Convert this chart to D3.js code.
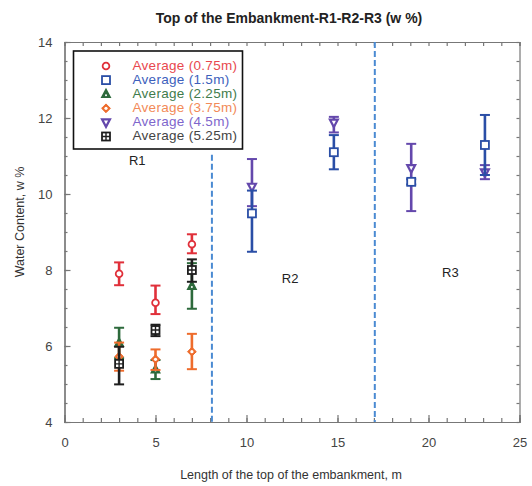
<!DOCTYPE html>
<html>
<head>
<meta charset="utf-8">
<script src="https://cdn.jsdelivr.net/npm/d3@7"></script>
<style>
  body { margin: 0; background: #fff; }
  svg { display: block; font-family: "Liberation Sans", Arial, sans-serif; }
</style>
</head>
<body>
<svg id="chart" width="532" height="486"></svg>
<script>
// Positions along the embankment top (m)
const positions = [3, 5, 7, 10.3, 14.8, 19.05, 23.1];

// Series: depth label, marker, colours
const seriesNames = ["Average (0.75m)", "Average (1.5m)", "Average (2.25m)", "Average (3.75m)", "Average (4.5m)", "Average (5.25m)"];
const seriesSymbols = ["circle", "square", "triangle", "diamond", "down", "crossSquare"];
const seriesColors = ["#e0303a", "#2a4ea6", "#2d6a3c", "#ee6c2c", "#6448ac", "#1e1e1e"];
const legendColors = ["#e8484e", "#3d5fbc", "#3f7c4c", "#f28a58", "#7e66cc", "#444444"];

// Mean water content (w %) and error-bar bounds; null where not measured
const mean075 = [7.9, 7.14, 8.68, null, null, null, null];
const lo075   = [7.6, 6.84, 8.44, null, null, null, null];
const hi075   = [8.2, 7.59, 8.94, null, null, null, null];

const mean15 = [null, null, null, 9.49, 11.1, 10.32, 11.29];
const lo15   = [null, null, null, 8.48, 10.65, 10.25, 10.5];
const hi15   = [null, null, null, 10.09, 11.55, 10.39, 12.08];

const mean225 = [6.08, 5.38, 7.58, null, null, null, null];
const lo225   = [5.68, 5.13, 6.98, null, null, null, null];
const hi225   = [6.48, 5.63, 8.18, null, null, null, null];

const mean375 = [5.72, 5.65, 5.85, null, null, null, null];
const lo375   = [5.35, 5.37, 5.39, null, null, null, null];
const hi375   = [6.09, 5.91, 6.32, null, null, null, null];

const mean45 = [null, null, null, 10.19, 11.88, 10.68, 10.57];
const lo45   = [null, null, null, 9.68, 11.62, 9.55, 10.39];
const hi45   = [null, null, null, 10.92, 12.03, 11.32, 10.76];

const mean525 = [5.53, 6.42, 8.0, null, null, null, null];
const lo525   = [4.99, 6.26, 7.69, null, null, null, null];
const hi525   = [5.98, 6.56, 8.28, null, null, null, null];

const means = [mean075, mean15, mean225, mean375, mean45, mean525];
const lows  = [lo075, lo15, lo225, lo375, lo45, lo525];
const highs = [hi075, hi15, hi225, hi375, hi45, hi525];

// Order in which the series are painted
const drawOrder = [4, 0, 1, 2, 3, 5];

// Zone boundaries and labels
const boundaries = [8.1, 17.05];
const boundaryTop = [11.03, 14];
const zoneLabels = ["R1", "R2", "R3"];
const zoneX = [4.0, 12.4, 21.2];
const zoneY = [10.85, 7.75, 7.9];

const xTicks = [0, 5, 10, 15, 20, 25];
const yTicks = [4, 6, 8, 10, 12, 14];

const svg = d3.select("#chart");
const plotLeft = 64.5, plotRight = 519.5, plotTop = 42, plotBottom = 422;

const x = d3.scaleLinear().domain([0, 25]).range([plotLeft, plotRight]);
const y = d3.scaleLinear().domain([4, 14]).range([plotBottom, plotTop]);

// Title
svg.append("text")
  .attr("x", 289).attr("y", 23)
  .attr("text-anchor", "middle")
  .attr("font-size", 14).attr("font-weight", "bold").attr("fill", "#222")
  .text("Top of the Embankment-R1-R2-R3 (w %)");

// Axes: labelled bottom/left, tick-only top/right, ticks pointing inwards
const axisColor = "#777";
const g = svg.append("g");

function styleAxis(sel) {
  sel.select(".domain").attr("stroke", axisColor).attr("stroke-width", 1.2);
  sel.selectAll(".tick line").attr("stroke", axisColor).attr("stroke-width", 1.2);
  sel.selectAll(".tick text").attr("fill", "#444").attr("font-size", 13);
}

// minor ticks
g.append("g").attr("transform", `translate(0,${plotBottom})`)
  .call(d3.axisBottom(x).ticks(25).tickSize(-4).tickFormat(""))
  .call(styleAxis);
g.append("g").attr("transform", `translate(0,${plotTop})`)
  .call(d3.axisTop(x).ticks(25).tickSize(-4).tickFormat(""))
  .call(styleAxis);
g.append("g").attr("transform", `translate(${plotLeft},0)`)
  .call(d3.axisLeft(y).ticks(20).tickSize(-3).tickFormat(""))
  .call(styleAxis);
g.append("g").attr("transform", `translate(${plotRight},0)`)
  .call(d3.axisRight(y).ticks(20).tickSize(-3).tickFormat(""))
  .call(styleAxis);

// major ticks with labels
g.append("g").attr("transform", `translate(0,${plotBottom})`)
  .call(d3.axisBottom(x).tickValues(xTicks).tickSize(-7).tickPadding(16).tickFormat(d3.format("d")))
  .call(styleAxis);
g.append("g").attr("transform", `translate(${plotLeft},0)`)
  .call(d3.axisLeft(y).tickValues(yTicks).tickSize(-6).tickPadding(12).tickFormat(d3.format("d")))
  .call(styleAxis);

// Axis titles
svg.append("text")
  .attr("x", 291).attr("y", 479)
  .attr("text-anchor", "middle").attr("font-size", 12.5).attr("fill", "#333")
  .text("Length of the top of the embankment, m");
svg.append("text")
  .attr("transform", "translate(24,222) rotate(-90)")
  .attr("text-anchor", "middle").attr("font-size", 12.5).attr("fill", "#333")
  .text("Water Content, w %");

// Zone boundaries
svg.append("g").selectAll("line").data(boundaries).join("line")
  .attr("x1", d => x(d)).attr("x2", d => x(d))
  .attr("y1", (d, i) => y(boundaryTop[i])).attr("y2", y(4))
  .attr("stroke", "#4a8ad2").attr("stroke-width", 2)
  .attr("stroke-dasharray", "6,3");

// Zone labels
svg.append("g").selectAll("text").data(zoneLabels).join("text")
  .attr("x", (d, i) => x(zoneX[i])).attr("y", (d, i) => y(zoneY[i]))
  .attr("text-anchor", "middle").attr("dominant-baseline", "middle")
  .attr("font-size", 13).attr("fill", "#222")
  .text(d => d);

// Marker drawing
function drawMarker(sel, kind, color, s) {
  const sw = 1.8;
  if (kind === "circle") {
    sel.append("circle").attr("r", s * 0.42).attr("fill", "#fff").attr("stroke", color).attr("stroke-width", sw);
  } else if (kind === "square") {
    sel.append("rect").attr("x", -s / 2).attr("y", -s / 2).attr("width", s).attr("height", s)
      .attr("fill", "#fff").attr("stroke", color).attr("stroke-width", sw);
  } else if (kind === "crossSquare") {
    sel.append("rect").attr("x", -s / 2).attr("y", -s / 2).attr("width", s).attr("height", s)
      .attr("fill", "#fff").attr("stroke", color).attr("stroke-width", sw);
    sel.append("path").attr("d", `M${-s / 2},0H${s / 2}M0,${-s / 2}V${s / 2}`)
      .attr("stroke", color).attr("stroke-width", 1.4);
  } else if (kind === "triangle") {
    const h = s * 0.9;
    sel.append("path").attr("d", `M0,${-h * 0.62}L${h * 0.55},${h * 0.42}L${-h * 0.55},${h * 0.42}Z`)
      .attr("fill", color).attr("stroke", color).attr("stroke-width", sw);
    sel.append("circle").attr("r", 1).attr("cy", 1).attr("fill", "#fff");
  } else if (kind === "down") {
    const h = s * 0.9;
    sel.append("path").attr("d", `M0,${h * 0.62}L${h * 0.55},${-h * 0.42}L${-h * 0.55},${-h * 0.42}Z`)
      .attr("fill", "#fff").attr("stroke", color).attr("stroke-width", sw + 0.4);
  } else if (kind === "diamond") {
    const r = s * 0.55;
    sel.append("path").attr("d", `M0,${-r}L${r},0L0,${r}L${-r},0Z`)
      .attr("fill", color).attr("stroke", color).attr("stroke-width", 1);
    sel.append("circle").attr("r", 1.6).attr("fill", "#fff");
  }
}

// Error bars and markers
const plot = svg.append("g");
drawOrder.forEach(si => {
  const color = seriesColors[si];
  const pts = positions.map((p, i) => ({ p, m: means[si][i], lo: lows[si][i], hi: highs[si][i] }))
    .filter(d => d.m !== null);
  const grp = plot.append("g");
  const bars = grp.selectAll("g.bar").data(pts).join("g").attr("class", "bar");
  bars.append("line")
    .attr("x1", d => x(d.p)).attr("x2", d => x(d.p))
    .attr("y1", d => y(d.lo)).attr("y2", d => y(d.hi))
    .attr("stroke", color).attr("stroke-width", 2.6);
  bars.append("line")
    .attr("x1", d => x(d.p) - 5).attr("x2", d => x(d.p) + 5)
    .attr("y1", d => y(d.lo)).attr("y2", d => y(d.lo))
    .attr("stroke", color).attr("stroke-width", 2);
  bars.append("line")
    .attr("x1", d => x(d.p) - 5).attr("x2", d => x(d.p) + 5)
    .attr("y1", d => y(d.hi)).attr("y2", d => y(d.hi))
    .attr("stroke", color).attr("stroke-width", 2);
  bars.each(function (d) {
    const m = d3.select(this).append("g").attr("transform", `translate(${x(d.p)},${y(d.m)})`);
    drawMarker(m, seriesSymbols[si], color, 8);
  });
});

// Legend
const legend = svg.append("g");
legend.append("rect")
  .attr("x", 73.5).attr("y", 51).attr("width", 169).attr("height", 98)
  .attr("fill", "#fff").attr("stroke", "#111").attr("stroke-width", 1.6);
seriesNames.forEach((name, i) => {
  const cy = 66 + i * 14.1;
  const m = legend.append("g").attr("transform", `translate(106,${cy})`);
  drawMarker(m, seriesSymbols[i], seriesColors[i], 8);
  legend.append("text")
    .attr("x", 132.5).attr("y", cy).attr("dominant-baseline", "middle")
    .attr("font-size", 13.5).attr("letter-spacing", 0.3).attr("fill", legendColors[i])
    .text(name);
});
</script>
</body>
</html>
